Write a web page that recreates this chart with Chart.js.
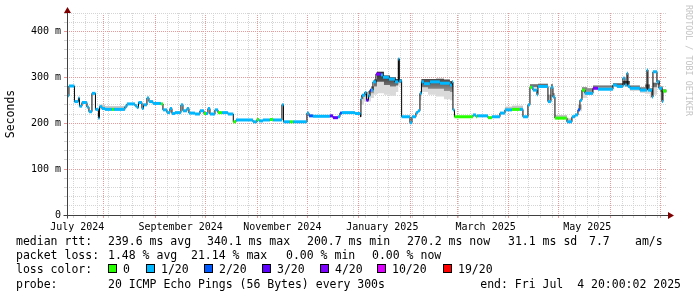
<!DOCTYPE html>
<html lang="en">
<head>
    <meta charset="UTF-8">
    <title>SmokePing - last 360 days</title>
    <script src="https://cdn.jsdelivr.net/npm/chart.js"></script>
    <style>
        body {
            margin: 0;
            padding: 0;
            background: #ffffff;
        }
        #wrap {
            position: relative;
            width: 697px;
            height: 297px;
            font-family: 'DejaVu Sans Mono', monospace;
            font-size: 11.5px;
            color: #000;
        }
        #graf {
            position: absolute;
            left: 0;
            top: 0;
        }
        .txt {
            position: absolute;
            white-space: pre;
            line-height: 14px;
        }
        .box {
            position: absolute;
            width: 9px;
            height: 9px;
            box-sizing: border-box;
            border: 1px solid #000;
        }
        #marca {
            position: absolute;
            left: 689px;
            top: 5px;
            transform-origin: 0 0;
            transform: rotate(90deg) translate(0, -50%);
            font-size: 8.4px;
            color: #c4c4c4;
            white-space: pre;
        }
    </style>
</head>
<body>
<div id="wrap">
    <canvas id="graf" width="697" height="297"></canvas>
    <div id="marca">RRDTOOL / TOBI OETIKER</div>
</div>
<script>
// days since 1 Jul 2024 00:00 ; graph runs 9 Jul 2024 20:00 -> 4 Jul 2025 20:00
const start = 8.83;
const end = 368.83;

// median rtt (ms), stepped, with loss class (0..4 -> 0, 1/20, 2/20, 3/20, 4/20)
const day = [8.8, 10.0, 13.3, 15.7, 16.3, 17.8, 20.8, 22.0, 23.8, 25.9, 27.7, 28.3, 29.8, 31.6, 35.8, 37.0,
    43.6, 44.8, 49.6, 50.8, 51.7, 53.8, 54.7, 56.8, 58.0, 60.4, 65.2, 66.4, 68.8, 70.6, 71.8, 73.6,
    77.2, 78.4, 80.8, 82.0, 85.6, 88.6, 91.0, 92.2, 93.4, 94.6, 97.6, 99.4, 101.8, 105.4, 108.6, 110.2,
    120.4, 122.8, 124.0, 126.4, 130.6, 132.4, 137.8, 138.7, 142.6, 144.4, 152.8, 154.0, 156.4, 166.6,
    168.4, 171.4, 172.6, 173.8, 181.6, 184.9, 185.2, 185.8, 187.6, 188.5, 189.7, 190.6, 191.2, 192.4,
    194.2, 197.2, 198.4, 202.0, 205.6, 207.6, 208.2, 209.6, 214.6, 215.8, 218.2, 219.4, 220.6, 221.5,
    223.0, 226.6, 232.6, 238.6, 239.8, 240.4, 241.3, 252.4, 254.2, 254.8, 261.4, 263.8, 268.6, 271.6,
    275.8, 280.6, 282.4, 285.4, 286.6, 287.8, 288.4, 290.8, 291.4, 297.4, 299.2, 300.4, 301.6, 308.8,
    311.8, 313.6, 315.4, 316.6, 317.8, 319.6, 324.4, 327.4, 336.4, 338.8, 342.4, 343.6, 344.8, 345.4,
    346.6, 352.6, 356.8, 357.4, 359.8, 360.4, 362.8, 364.0, 365.8, 366.4, 368.5];
const median = [260, 281, 247, 255, 237, 245, 235, 225, 265, 230, 211, 236, 232, 230, 230, 230,
    236, 242, 238, 234, 245, 232, 240, 255, 247, 243, 242, 229, 223, 232, 221, 223,
    240, 227, 232, 222, 220, 227, 221, 221, 232, 220, 229, 223, 223, 220, 203, 207,
    203, 208, 205, 207, 208, 207, 240, 203, 203, 203, 222, 216, 215, 216,
    212, 214, 222, 223, 221, 214, 253, 261, 267, 250, 260, 272, 272, 290,
    307, 305, 300, 296, 290, 340, 292, 214, 201, 214, 223, 227, 265, 290,
    286, 290, 287, 283, 290, 229, 214, 218, 214, 216, 212, 214, 222, 229,
    230, 230, 214, 240, 278, 278, 272, 262, 280, 247, 278, 257, 211, 203,
    214, 218, 229, 250, 272, 265, 276, 274, 283, 280, 298, 283, 309, 280,
    276, 272, 316, 272, 257, 312, 290, 276, 247, 270, 270];
const loss = [1, 1, 1, 1, 1, 1, 1, 1, 1, 1, 1, 1, 1, 1, 0, 1,
    1, 1, 1, 1, 1, 1, 1, 1, 1, 1, 0, 1, 1, 1, 1, 1,
    1, 1, 1, 1, 1, 1, 0, 1, 1, 1, 1, 0, 1, 1, 0, 1,
    1, 0, 1, 1, 0, 1, 1, 1, 0, 1, 1, 2, 1, 3,
    3, 1, 2, 1, 1, 1, 1, 1, 1, 3, 1, 3, 1, 1,
    4, 1, 1, 1, 1, 1, 1, 1, 1, 1, 1, 1, 1, 1,
    1, 1, 1, 1, 1, 1, 0, 1, 0, 1, 0, 1, 1, 1,
    0, 1, 1, 1, 0, 1, 1, 1, 1, 1, 1, 1, 0, 1,
    1, 1, 2, 1, 0, 1, 4, 1, 1, 1, 1, 1, 1, 1,
    1, 1, 1, 1, 1, 1, 1, 1, 1, 0, 0];

// smoke (spread of the 20 pings): outer band lo..hi, darker band mid..hi
const smokeDay = [8.8, 28.6, 31.6, 43.6, 185.2, 187.0, 189.4, 191.2, 193.0, 194.8, 199.0, 202.6, 206.2,
    207.6, 208.2, 209.6, 220.6, 221.5, 225.4, 230.2, 235.0, 238.6, 240.4, 271.6, 275.8, 282.4,
    286.6, 291.4, 297.4, 299.2, 300.4, 301.6, 308.8, 311.8, 315.4, 317.8, 320.8, 324.4, 336.4,
    342.4, 346.6, 352.6, 355.6, 358.6, 360.4, 362.8, 364.6, 366.4, 368.5];
const smokeHi = [250, 240, 237, 240, 262, 268, 270, 280, 295, 312, 304, 300, 296,
    340, 296, 214, 270, 296, 296, 297, 295, 292, 229, 236, 238, 214,
    285, 286, 262, 285, 265, 218, 210, 214, 240, 278, 276, 282, 287,
    292, 282, 278, 284, 276, 288, 293, 280, 274, 274];
const smokeMid = [250, 233, 232, 240, 252, 258, 258, 265, 280, 290, 283, 280, 282,
    290, 288, 214, 260, 278, 275, 275, 270, 268, 229, 229, 231, 214,
    279, 281, 249, 279, 258, 212, 204, 214, 231, 268, 266, 277, 283,
    284, 276, 271, 274, 268, 278, 284, 268, 269, 269];
const smokeLo = [250, 229, 229, 240, 240, 247, 247, 255, 262, 265, 262, 260, 268,
    285, 280, 214, 250, 268, 262, 258, 252, 250, 229, 229, 229, 214,
    276, 278, 245, 276, 255, 209, 201, 214, 226, 255, 262, 274, 280,
    280, 270, 266, 264, 255, 262, 276, 250, 265, 265];

const lossColors = ['#26ff00', '#00b8ff', '#0059ff', '#5e00ff', '#7e00ff', '#dd00ff', '#ff0000'];
const lossLabels = ['0', '1/20', '2/20', '3/20', '4/20', '10/20', '19/20'];

// x axis: month starts (major grid), sundays (minor grid), label positions
const monthStarts = [31, 62, 92, 123, 153, 184, 215, 243, 274, 304, 335, 365];
const labelDays = [15, 77, 138, 198, 260, 321];
const labelText = ['July 2024', 'September 2024', 'November 2024', 'January 2025', 'March 2025', 'May 2025'];
const yMax = 440;

const weeks = [];
for (let d = 13; d < end; d += 7) weeks.push(d);

const pts = (xs, ys) => xs.map((x, i) => ({x: x, y: ys[i]}));

// horizontal pieces of the median, coloured by loss
const segData = [];
for (let i = 0; i < day.length - 1; i++) {
    segData.push({x: day[i], y: median[i]}, {x: day[i + 1], y: median[i]}, {x: day[i + 1], y: null});
}

const tickKind = {};
weeks.forEach(d => tickKind[d] = 'w');
monthStarts.forEach(d => tickKind[d] = 'm');
labelDays.forEach(d => { if (!tickKind[d]) tickKind[d] = 'l'; });

const MINOR = '#d4d4d4';
const MAJOR = '#e89a9a';
const NONE = 'rgba(0,0,0,0)';
const gridCol = v => tickKind[v] === 'm' ? MAJOR : (tickKind[v] === 'w' ? MINOR : NONE);

const axesPlugin = {
    id: 'rrdAxes',
    afterDatasetsDraw(chart) {
        const ctx = chart.ctx;
        const a = chart.chartArea;
        const x0 = Math.round(a.left) + 0.5;
        const y0 = Math.round(a.bottom) + 0.5;
        ctx.save();
        ctx.strokeStyle = '#404040';
        ctx.lineWidth = 1;
        ctx.beginPath();
        ctx.moveTo(x0, y0 + 3);
        ctx.lineTo(x0, a.top - 1);
        ctx.moveTo(x0 - 4, y0);
        ctx.lineTo(a.right + 2, y0);
        ctx.stroke();
        ctx.fillStyle = '#7f0000';
        ctx.beginPath();
        ctx.moveTo(x0 - 3.5, a.top);
        ctx.lineTo(x0, a.top - 6);
        ctx.lineTo(x0 + 3.5, a.top);
        ctx.closePath();
        ctx.fill();
        ctx.beginPath();
        ctx.moveTo(a.right + 1, y0 - 3.5);
        ctx.lineTo(a.right + 7, y0);
        ctx.lineTo(a.right + 1, y0 + 3.5);
        ctx.closePath();
        ctx.fill();
        ctx.restore();
    }
};

// darker core of the smoke, shaded by height like the reference
function smokeShade(c) {
    const ch = c.chart;
    if (!ch.chartArea) return '#999';
    const y = ch.scales.y;
    const g = ch.ctx.createLinearGradient(0, y.getPixelForValue(320), 0, y.getPixelForValue(245));
    g.addColorStop(0, '#1c1c1c');
    g.addColorStop(0.35, '#505050');
    g.addColorStop(0.75, '#a8a8a8');
    g.addColorStop(1, '#c4c4c4');
    return g;
}

Chart.defaults.font.family = "'DejaVu Sans Mono', monospace";
Chart.defaults.font.size = 10;
Chart.defaults.color = '#000';

const smokeLine = {
    stepped: true, pointRadius: 0, borderWidth: 0, borderColor: NONE
};

new Chart(document.getElementById('graf'), {
    type: 'line',
    data: {
        datasets: [
            Object.assign({data: pts(smokeDay, smokeLo), fill: false, order: 5}, smokeLine),
            Object.assign({data: pts(smokeDay, smokeHi), fill: '-1', backgroundColor: '#dadada', order: 4}, smokeLine),
            Object.assign({data: pts(smokeDay, smokeMid), fill: false, order: 3}, smokeLine),
            Object.assign({data: pts(smokeDay, smokeHi), fill: '-1', backgroundColor: smokeShade, order: 2}, smokeLine),
            {
                data: pts(day, median),
                stepped: true,
                borderColor: '#000',
                borderWidth: 1,
                pointRadius: 0,
                fill: false,
                order: 1
            },
            {
                data: segData,
                borderWidth: 3,
                borderCapStyle: 'butt',
                pointRadius: 0,
                spanGaps: false,
                fill: false,
                borderColor: lossColors[1],
                segment: {
                    borderColor: c => lossColors[loss[Math.floor(c.p0DataIndex / 3)]]
                },
                order: 0
            }
        ]
    },
    options: {
        responsive: false,
        animation: false,
        events: [],
        layout: {padding: {left: 0, right: 30, top: 13, bottom: 60}},
        plugins: {legend: {display: false}, tooltip: {enabled: false}},
        scales: {
            x: {
                type: 'linear',
                min: start,
                max: end,
                afterFit: s => { s.height = 22; },
                afterBuildTicks: s => {
                    s.ticks = Object.keys(tickKind).map(Number).sort((p, q) => p - q).map(v => ({value: v}));
                },
                grid: {
                    color: c => gridCol(c.tick.value),
                    tickColor: c => gridCol(c.tick.value),
                    tickLength: 3,
                    lineWidth: 1
                },
                border: {display: false, dash: [1, 1]},
                ticks: {
                    autoSkip: false,
                    maxRotation: 0,
                    minRotation: 0,
                    padding: 3,
                    callback: v => {
                        const i = labelDays.indexOf(v);
                        return i >= 0 ? labelText[i] : '';
                    }
                }
            },
            y: {
                type: 'linear',
                min: 0,
                max: yMax,
                afterFit: s => { s.width = 67; },
                grid: {
                    color: c => c.tick.value % 100 === 0 ? MAJOR : MINOR,
                    tickColor: c => c.tick.value % 100 === 0 ? MAJOR : MINOR,
                    tickLength: 3,
                    lineWidth: 1
                },
                border: {display: false, dash: [1, 1]},
                title: {
                    display: true,
                    text: 'Seconds',
                    padding: {top: 4, bottom: 0},
                    font: {size: 11.5}
                },
                ticks: {
                    stepSize: 20,
                    autoSkip: false,
                    padding: 3,
                    callback: v => v % 100 === 0 ? (v === 0 ? '0' : v + ' m') : ''
                }
            }
        }
    },
    plugins: [axesPlugin]
});

// legend lines below the graph
const wrap = document.getElementById('wrap');
function put(x, yc, text) {
    const d = document.createElement('div');
    d.className = 'txt';
    d.style.left = x + 'px';
    d.style.top = (yc - 7) + 'px';
    d.textContent = text;
    wrap.appendChild(d);
    return d;
}

const rows = [
    [241, [[16, 'median rtt:'], [108, '239.6 ms avg'], [207, '340.1 ms max'], [307, '200.7 ms min'],
        [407, '270.2 ms now'], [508, '31.1 ms sd'], [589, '7.7'], [635, 'am/s']]],
    [255, [[16, 'packet loss:'], [108, '1.48 % avg'], [191, '21.14 % max'], [286, '0.00 % min'], [372, '0.00 % now']]],
    [269, [[16, 'loss color:']]],
    [283.5, [[16, 'probe:'], [108, '20 ICMP Echo Pings (56 Bytes) every 300s']]]
];
rows.forEach(r => r[1].forEach(p => put(p[0], r[0], p[1])));

const boxX = [108, 145.5, 204, 261.7, 319.5, 377.4, 442.8];
lossLabels.forEach((lab, i) => {
    const b = document.createElement('div');
    b.className = 'box';
    b.style.left = Math.round(boxX[i]) + 'px';
    b.style.top = '264px';
    b.style.background = lossColors[i];
    wrap.appendChild(b);
    put(Math.round(boxX[i]) + 15, 269, lab);
});

const endTxt = put(0, 283.5, 'end: Fri Jul  4 20:00:02 2025');
endTxt.style.left = 'auto';
endTxt.style.right = '16px';
</script>
</body>
</html>
